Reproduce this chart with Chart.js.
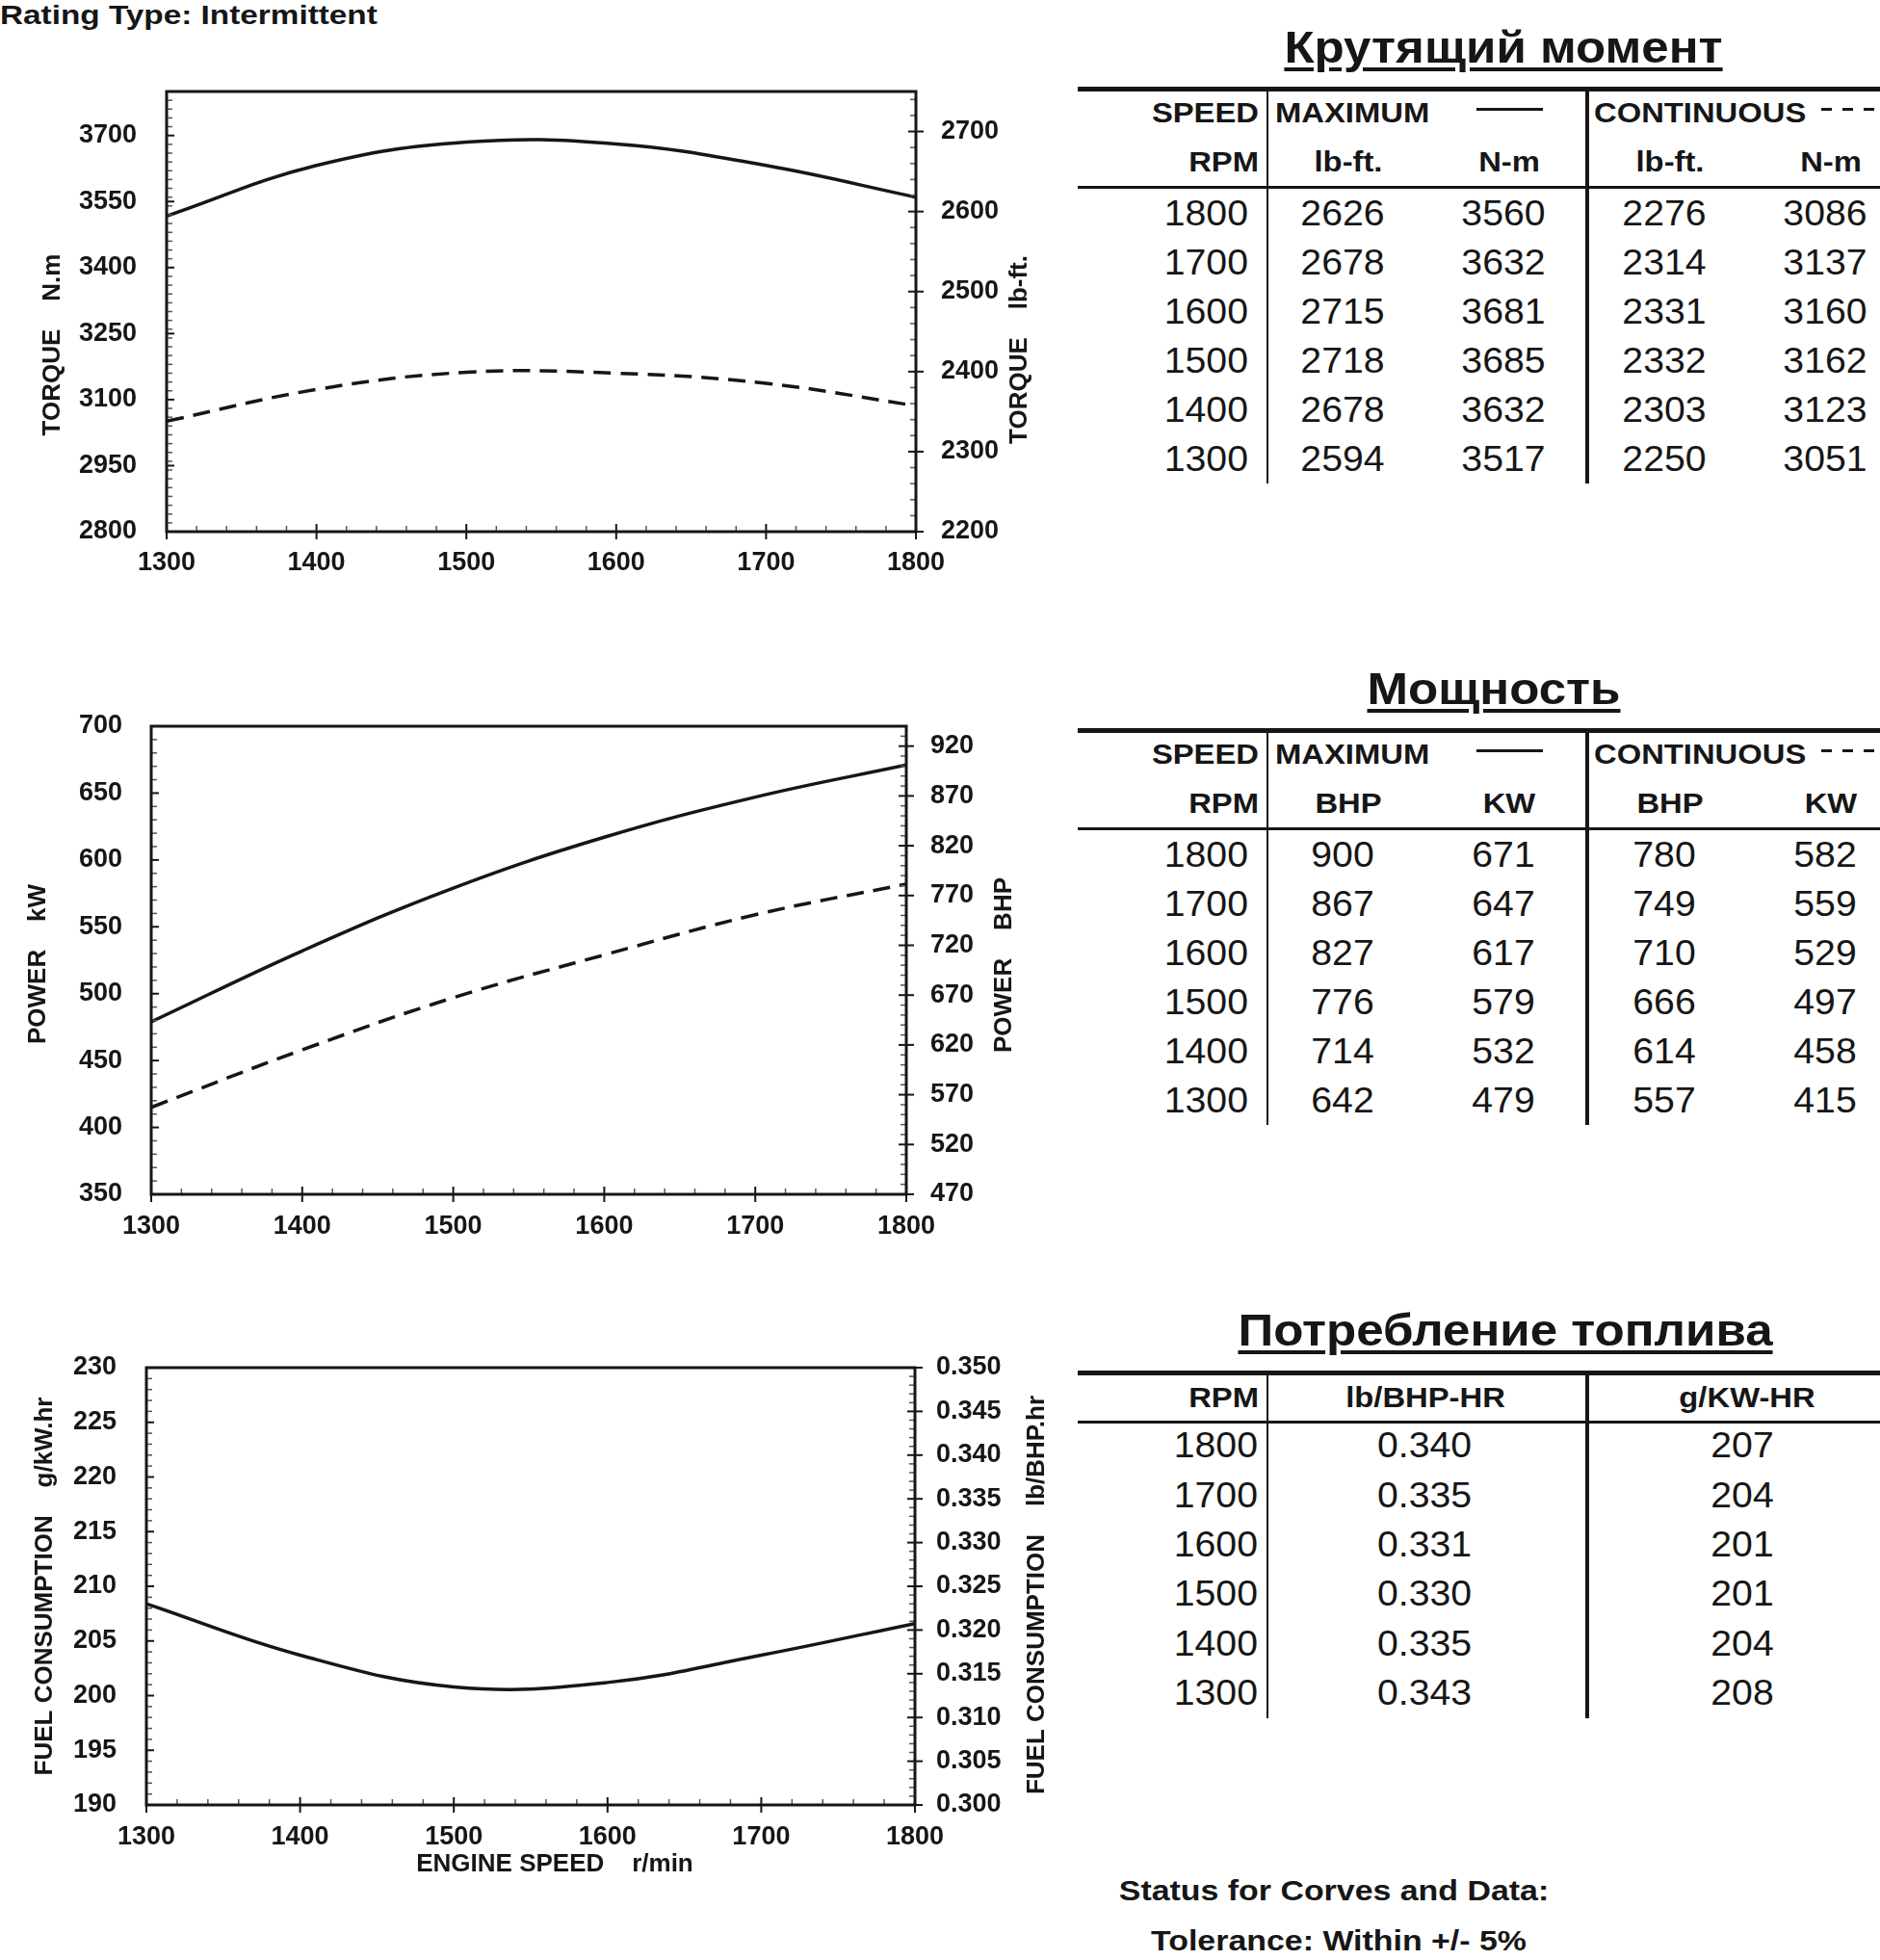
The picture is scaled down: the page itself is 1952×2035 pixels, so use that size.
<!DOCTYPE html>
<html>
<head>
<meta charset="utf-8">
<script src="https://cdn.jsdelivr.net/npm/chart.js@4.4.0/dist/chart.umd.min.js"></script>
<style>
html, body { margin: 0; padding: 0; background: #fff; }
body { position: relative; width: 1952px; height: 2035px; overflow: hidden; font-family: "Liberation Sans", Arial, sans-serif; color: #161616; }
canvas { position: absolute; left: 0; }
.t { position: absolute; white-space: nowrap; line-height: 1; }
.u { text-decoration: underline; text-decoration-thickness: 4px; text-underline-offset: 5px; text-decoration-skip-ink: auto; }
.r { position: absolute; background: #161616; }
</style>
</head>
<body>
<canvas id="torque" width="1110" height="595" style="top:45px"></canvas>
<canvas id="power" width="1110" height="600" style="top:700px"></canvas>
<canvas id="fuel" width="1110" height="665" style="top:1370px"></canvas>
<script>
// engine speed, r/min
const rpm = [1300, 1400, 1500, 1600, 1700, 1800];

// torque
const torqueMaxLbft = [2594, 2678, 2718, 2715, 2678, 2626];
const torqueMaxNm = [3517, 3632, 3685, 3681, 3632, 3560];
const torqueContLbft = [2250, 2303, 2332, 2331, 2314, 2276];
const torqueContNm = [3051, 3123, 3162, 3160, 3137, 3086];

// power
const powerMaxBhp = [642, 714, 776, 827, 867, 900];
const powerMaxKw = [479, 532, 579, 617, 647, 671];
const powerContBhp = [557, 614, 666, 710, 749, 780];
const powerContKw = [415, 458, 497, 529, 559, 582];

// fuel consumption (table) and the curve as drawn on the chart
const fuelLbBhp = ['0.343', '0.335', '0.330', '0.331', '0.335', '0.340'];
const fuelGKw = [208, 204, 201, 201, 204, 207];
const fuelCurveGKw = [208.4, 203.7, 200.8, 201.2, 203.7, 206.6];

// axes
const rpmRange = [1300, 1800];
const rpmTicks = [1300, 1400, 1500, 1600, 1700, 1800];
const torqueNmRange = [2800, 3800];
const torqueNmTicks = [2800, 2950, 3100, 3250, 3400, 3550, 3700];
const torqueLbftRange = [2200, 2750];
const torqueLbftTicks = [2200, 2300, 2400, 2500, 2600, 2700];
const powerKwRange = [350, 700];
const powerKwTicks = [350, 400, 450, 500, 550, 600, 650, 700];
const powerBhpRange = [470, 940];
const powerBhpTicks = [470, 520, 570, 620, 670, 720, 770, 820, 870, 920];
const fuelGKwRange = [190, 230];
const fuelGKwTicks = [190, 195, 200, 205, 210, 215, 220, 225, 230];
const fuelLbRange = [0.300, 0.350];
const fuelLbTicks = [0.300, 0.305, 0.310, 0.315, 0.320, 0.325, 0.330, 0.335, 0.340, 0.345, 0.350];

const FONT = '"Liberation Sans", Arial, sans-serif';
const INK = '#161616';

// frame, inside ticks and rotated axis titles
const frame = {
  id: 'frame',
  afterDraw(chart, args, opts) {
    const { ctx, chartArea: a } = chart;
    ctx.save();
    Object.values(chart.scales).forEach(s => {
      const step = s.options.minorStep;
      const majors = s.ticks.map(t => t.value);
      const n = Math.floor((s.max - s.min) / step + 1e-6);
      const mark = (v, major) => {
        const p = s.getPixelForValue(v);
        ctx.beginPath();
        ctx.lineWidth = major ? 2 : 1.5;
        ctx.strokeStyle = major ? INK : '#555';
        if (s.position === 'bottom') {
          ctx.moveTo(p, a.bottom - (major ? 8 : 6));
          ctx.lineTo(p, a.bottom + (major ? 8 : 0));
        } else if (s.position === 'left') {
          ctx.moveTo(a.left, p);
          ctx.lineTo(a.left + (major ? 8 : 6), p);
        } else {
          ctx.moveTo(a.right - (major ? 8 : 6), p);
          ctx.lineTo(a.right + (major ? 8 : 0), p);
        }
        ctx.stroke();
      };
      for (let i = 0; i <= n; i++) {
        const v = s.min + i * step;
        if (!majors.some(m => Math.abs(m - v) < step / 10)) mark(v, false);
      }
      majors.forEach(v => mark(v, true));
    });
    ctx.lineWidth = 3;
    ctx.strokeStyle = INK;
    ctx.strokeRect(a.left, a.top, a.right - a.left, a.bottom - a.top);

    ctx.fillStyle = INK;
    ctx.font = 'bold 26px ' + FONT;
    ctx.textAlign = 'center';
    ctx.textBaseline = 'middle';
    (opts.titles || []).forEach(t => {
      ctx.save();
      ctx.translate(t.x, t.y);
      if (t.rot) ctx.rotate(-Math.PI / 2);
      ctx.fillText(t.text, 0, 0);
      ctx.restore();
    });
    ctx.restore();
  }
};

function tickFont() {
  return { family: FONT, size: 27, weight: 'bold' };
}

function xAxis(height, pad) {
  return {
    type: 'linear', position: 'bottom', min: rpmRange[0], max: rpmRange[1], minorStep: 20,
    grid: { display: false, drawTicks: false }, border: { display: false },
    ticks: { padding: pad, color: INK, font: tickFont(), autoSkip: false, maxRotation: 0, callback: v => v },
    afterBuildTicks: s => { s.ticks = rpmTicks.map(v => ({ value: v })); },
    afterFit: s => { s.height = height; }
  };
}

function yAxis(pos, range, ticks, minor, pad, width, fmt) {
  return {
    type: 'linear', position: pos, min: range[0], max: range[1], minorStep: minor,
    grid: { display: false, drawTicks: false }, border: { display: false },
    ticks: { padding: pad, color: INK, font: tickFont(), autoSkip: false, callback: fmt || (v => v) },
    afterBuildTicks: s => { s.ticks = ticks.map(v => ({ value: v })); },
    afterFit: s => { s.width = width; }
  };
}

function curve(values, dashed) {
  return {
    data: rpm.map((x, i) => ({ x: x, y: values[i] })),
    yAxisID: 'y',
    borderColor: INK,
    borderWidth: 3.5,
    borderDash: dashed ? [18, 10] : [],
    pointRadius: 0,
    tension: 0.4,
    fill: false
  };
}

function makeChart(id, datasets, padTop, scales, titles) {
  return new Chart(document.getElementById(id), {
    type: 'line',
    data: { datasets: datasets },
    options: {
      responsive: false,
      animation: false,
      devicePixelRatio: 1,
      layout: { padding: { top: padTop, left: 0, right: 0, bottom: 0 } },
      plugins: { legend: { display: false }, tooltip: { enabled: false }, frame: { titles: titles } },
      scales: scales
    },
    plugins: [frame]
  });
}

// Torque
makeChart('torque', [curve(torqueMaxNm, false), curve(torqueContNm, true)], 50, {
  x: xAxis(88, 16),
  y: yAxis('left', torqueNmRange, torqueNmTicks, 20, 31, 173),
  y2: yAxis('right', torqueLbftRange, torqueLbftTicks, 20, 26, 159)
}, [
  { text: 'TORQUE    N.m', x: 55, y: 313, rot: true },
  { text: 'TORQUE    lb-ft.', x: 1059, y: 318, rot: true }
]);

// Power
makeChart('power', [curve(powerMaxKw, false), curve(powerContKw, true)], 54, {
  x: xAxis(60, 17),
  y: yAxis('left', powerKwRange, powerKwTicks, 10, 30, 157),
  y2: yAxis('right', powerBhpRange, powerBhpTicks, 10, 25, 169)
}, [
  { text: 'POWER    kW', x: 40, y: 301, rot: true },
  { text: 'POWER    BHP', x: 1043, y: 302, rot: true }
]);

// Fuel consumption
makeChart('fuel', [curve(fuelCurveGKw, false)], 50, {
  x: xAxis(161, 17),
  y: yAxis('left', fuelGKwRange, fuelGKwTicks, 1, 31, 152),
  y2: yAxis('right', fuelLbRange, fuelLbTicks, 0.001, 22, 160, v => v.toFixed(3))
}, [
  { text: 'FUEL CONSUMPTION    g/kW.hr', x: 47, y: 277, rot: true },
  { text: 'FUEL CONSUMPTION    lb/BHP.hr', x: 1077, y: 286, rot: true },
  { text: 'ENGINE SPEED    r/min', x: 576, y: 566, rot: false }
]);

// ---- text and tables on the right ----
function txt(str, x, y, size, o) {
  o = o || {};
  const d = document.createElement('div');
  d.className = 't' + (o.underline ? ' u' : '');
  d.textContent = str;
  d.style.fontSize = size + 'px';
  d.style.fontWeight = o.bold ? 'bold' : 'normal';
  d.style.left = x + 'px';
  d.style.top = (y - size * 0.49) + 'px';
  const sx = o.sx || 1.13;
  const align = o.align || 'center';
  if (align === 'center') {
    d.style.transformOrigin = '50% 50%';
    d.style.transform = 'translateX(-50%) scaleX(' + sx + ')';
  } else if (align === 'right') {
    d.style.transformOrigin = '100% 50%';
    d.style.transform = 'translateX(-100%) scaleX(' + sx + ')';
  } else {
    d.style.transformOrigin = '0 50%';
    d.style.transform = 'scaleX(' + sx + ')';
  }
  document.body.appendChild(d);
}

function rule(x1, x2, y, th) {
  const d = document.createElement('div');
  d.className = 'r';
  d.style.left = x1 + 'px';
  d.style.width = (x2 - x1) + 'px';
  d.style.top = (y - th / 2) + 'px';
  d.style.height = th + 'px';
  document.body.appendChild(d);
}

function vline(x, y1, y2, w) {
  const d = document.createElement('div');
  d.className = 'r';
  d.style.left = (x - w / 2) + 'px';
  d.style.width = w + 'px';
  d.style.top = y1 + 'px';
  d.style.height = (y2 - y1) + 'px';
  document.body.appendChild(d);
}

function dashes(x1, x2, y) {
  const d = document.createElement('div');
  d.style.position = 'absolute';
  d.style.left = x1 + 'px';
  d.style.width = (x2 - x1) + 'px';
  d.style.top = (y - 1.5) + 'px';
  d.style.height = '3px';
  d.style.background = 'repeating-linear-gradient(90deg, ' + INK + ' 0 11px, transparent 11px 22px)';
  document.body.appendChild(d);
}

const rowsDesc = [5, 4, 3, 2, 1, 0];
const subX = [1400, 1567, 1734, 1901];
const valX = [1394, 1561, 1728, 1895];

function bigTable(off, title, titleX, sub, cols) {
  txt(title, titleX, 48.5 + off, 46, { bold: true, underline: true, sx: 1.11 });
  rule(1119, 1952, 92 + off, 5);
  rule(1119, 1952, 194.5 + off, 3);
  vline(1316, 90 + off, 502 + off, 2.5);
  vline(1648, 90 + off, 502 + off, 4.5);
  txt('SPEED', 1307, 117.5 + off, 29, { bold: true, align: 'right' });
  txt('MAXIMUM', 1324, 117.5 + off, 29, { bold: true, align: 'left' });
  rule(1533, 1602, 113.5 + off, 3);
  txt('CONTINUOUS', 1655, 117.5 + off, 29, { bold: true, align: 'left' });
  dashes(1891, 1952, 113.5 + off);
  txt('RPM', 1307, 168 + off, 29, { bold: true, align: 'right' });
  sub.forEach((s, j) => txt(s, subX[j], 168 + off, 29, { bold: true }));
  rowsDesc.forEach((i, k) => {
    const y = 221 + off + k * 51;
    txt(String(rpm[i]), 1296, y, 37, { align: 'right', sx: 1.06 });
    cols.forEach((c, j) => txt(String(c[i]), valX[j], y, 37, { sx: 1.06 }));
  });
}

txt('Rating Type: Intermittent', 0, 15.5, 28, { bold: true, align: 'left', sx: 1.19 });

bigTable(0, 'Крутящий момент', 1561, ['lb-ft.', 'N-m', 'lb-ft.', 'N-m'],
  [torqueMaxLbft, torqueMaxNm, torqueContLbft, torqueContNm]);
bigTable(666, 'Мощность', 1551, ['BHP', 'KW', 'BHP', 'KW'],
  [powerMaxBhp, powerMaxKw, powerContBhp, powerContKw]);

// fuel table
txt('Потребление топлива', 1563, 1381, 46, { bold: true, underline: true, sx: 1.11 });
rule(1119, 1952, 1425, 5);
rule(1119, 1952, 1476, 3);
vline(1316, 1423, 1784, 2.5);
vline(1648, 1423, 1784, 4.5);
txt('RPM', 1307, 1451, 29, { bold: true, align: 'right' });
txt('lb/BHP-HR', 1480, 1451, 29, { bold: true });
txt('g/KW-HR', 1814, 1451, 29, { bold: true });
rowsDesc.forEach((i, k) => {
  const y = 1500.5 + k * 51.3;
  txt(String(rpm[i]), 1306, y, 37, { align: 'right', sx: 1.06 });
  txt(fuelLbBhp[i], 1479, y, 37, { sx: 1.06 });
  txt(String(fuelGKw[i]), 1809, y, 37, { sx: 1.06 });
});

txt('Status for Corves and Data:', 1385, 1963, 30, { bold: true });
txt('Tolerance: Within +/- 5%', 1390, 2015, 30, { bold: true });
</script>
</body>
</html>
